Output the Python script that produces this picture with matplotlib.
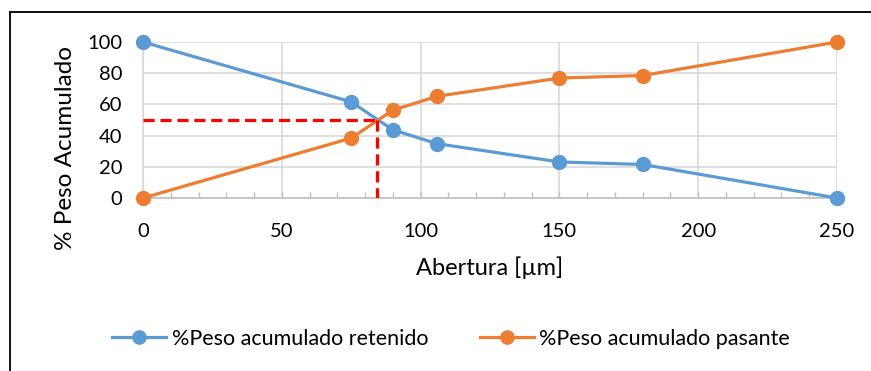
import matplotlib.pyplot as plt
from matplotlib.lines import Line2D
from matplotlib.ticker import MultipleLocator

abertura = [0, 75, 90, 106, 150, 180, 250]
retenido = [100, 61.6, 43.7, 34.8, 23.1, 21.5, 0]
pasante = [0, 38.4, 56.3, 65.2, 76.9, 78.5, 100]
d50 = 84.2

azul = '#5B9BD5'
naranja = '#ED7D31'

fig = plt.figure(figsize=(8.71, 3.71), dpi=100)
ax = fig.add_axes([143/871, 1-198/371, (837-143)/871, 156/371])

ax.plot(abertura, retenido, color=azul, lw=2.3, marker='o', ms=10,
        label='%Peso acumulado retenido', clip_on=False, zorder=4)
ax.plot(abertura, pasante, color=naranja, lw=2.3, marker='o', ms=10,
        label='%Peso acumulado pasante', clip_on=False, zorder=4)

# linea del d50
ax.plot([0, d50], [50, 50], color='#FF0000', lw=2.3, ls=(0, (3.5, 1.8)), zorder=5)
ax.plot([d50, d50], [50, 0], color='#FF0000', lw=2.3, ls=(0, (3.5, 1.8)), zorder=5)

ax.set_xlim(0, 250)
ax.set_ylim(0, 100)
ax.xaxis.set_major_locator(MultipleLocator(50))
ax.xaxis.set_minor_locator(MultipleLocator(10))
ax.yaxis.set_major_locator(MultipleLocator(20))
ax.grid(True, color='#D9D9D9', lw=1.2)
ax.set_axisbelow(True)

for s in ['top', 'right']:
    ax.spines[s].set_visible(False)
ax.spines['left'].set_color('#D9D9D9')
ax.spines['left'].set_linewidth(1.2)
ax.spines['bottom'].set_color('#BFBFBF')
ax.spines['bottom'].set_linewidth(1.2)

ax.tick_params(axis='x', which='both', direction='in', length=4, color='#BFBFBF',
               width=1, pad=18, labelsize=14.5)
ax.tick_params(axis='y', length=0, pad=15, labelsize=14.5)
for t in ax.get_xticklabels() + ax.get_yticklabels():
    t.set_fontfamily('Lato')

fig.text(490/871, 1-268/371, 'Abertura [µm]', ha='center', va='center',
         fontsize=17, family='Lato')
fig.text(65/871, 1-148/371, '% Peso Acumulado', ha='center', va='center',
         rotation=90, fontsize=17.5, family='Lato')

fig.legend(loc='center', bbox_to_anchor=(451/871, 1-339/371), ncol=2, frameon=False,
           prop={'family': 'Lato', 'size': 15.5}, handlelength=2.5, markerscale=0.95,
           handletextpad=0.25, columnspacing=2.4)

# marco del grafico
fig.add_artist(Line2D([10/871, 1], [1-12/371, 1-12/371], color='black', lw=1.3))
fig.add_artist(Line2D([10/871, 10/871], [0, 1-12/371], color='black', lw=1.3))

fig.savefig('out.png', dpi=100)
